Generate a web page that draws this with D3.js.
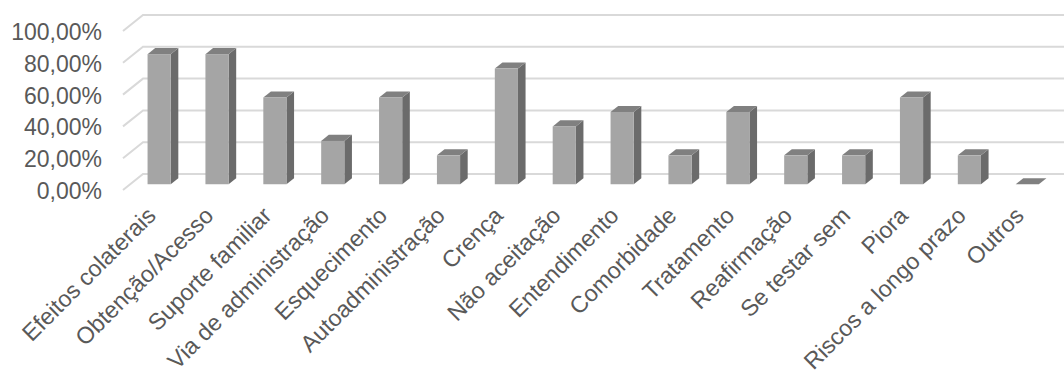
<!DOCTYPE html>
<html>
<head>
<meta charset="utf-8">
<style>
	body { margin: 0; background: #fff; }
	svg { display: block; font-family: "Liberation Sans", Arial, sans-serif; }
	.grid { stroke: #d9d9d9; stroke-width: 2; fill: none; }
	.front { fill: #a5a5a5; }
	.side { fill: #6b6b6b; }
	.top { fill: #808080; }
	.tick-label, .cat-label { fill: #595959; }
</style>
</head>
<body>
<svg width="1064" height="376"></svg>
<script src="https://d3js.org/d3.v7.min.js"></script>
<script>

// data
var categorias = ["Efeitos colaterais", "Obtenção/Acesso", "Suporte familiar", "Via de administração",
	"Esquecimento", "Autoadministração", "Crença", "Não aceitação", "Entendimento", "Comorbidade",
	"Tratamento", "Reafirmação", "Se testar sem", "Piora", "Riscos a longo prazo", "Outros"];
var valores = [0.8182, 0.8182, 0.5455, 0.2727, 0.5455, 0.1818, 0.7273, 0.3636, 0.4545, 0.1818,
	0.4545, 0.1818, 0.1818, 0.5455, 0.1818, 0];
var ticks = [0, 0.2, 0.4, 0.6, 0.8, 1];

var svg = d3.select("svg");

// plano frontal + profundidade (efeito 3D)
var x0 = 123, x1 = 1049,
	yBase = 190, yTop = 31,
	dx = 20, dy = -16,     // profundidade do piso
	f = 0.36,              // posição da face frontal da barra
	fd = 0.38;             // profundidade da barra

var x = d3.scaleBand()
	.domain(categorias)
	.range([x0, x1])
	.paddingInner(0.6)
	.paddingOuter(0.3);

var y = d3.scaleLinear()
	.domain([0, 1])
	.range([yBase, yTop]);

var fmt = function (t) {
	return d3.format(".2f")(t * 100).replace(".", ",") + "%";
};

// linhas de grade (diagonal + parede do fundo)
var grid = svg.append("g");
ticks.forEach(function (t) {
	grid.append("path")
		.attr("class", "grid")
		.attr("d", "M" + x0 + "," + y(t) + "L" + (x0 + dx) + "," + (y(t) + dy) + "L" + (x1 + dx) + "," + (y(t) + dy));
});

// rótulos do eixo y
svg.append("g").selectAll("text")
	.data(ticks)
	.enter().append("text")
	.attr("class", "tick-label")
	.attr("x", 102)
	.attr("y", function (t) { return y(t) + 1; })
	.attr("dy", "0.35em")
	.attr("text-anchor", "end")
	.style("font-size", "23px")
	.text(fmt);

var dados = categorias.map(function (c, i) { return { cat: c, v: valores[i] }; });

var bw = x.bandwidth();
var ox = f * dx, oy = f * dy, bx = fd * dx, by = fd * dy;

var barras = svg.append("g").selectAll("g")
	.data(dados)
	.enter().append("g");

// face lateral
barras.filter(function (d) { return d.v > 0; })
	.append("path")
	.attr("class", "side")
	.attr("d", function (d) {
		var xr = x(d.cat) + ox + bw, yt = y(d.v) + oy, yb = y(0) + oy;
		return "M" + xr + "," + yt + "L" + (xr + bx) + "," + (yt + by) + "L" + (xr + bx) + "," + (yb + by) + "L" + xr + "," + yb + "Z";
	});

// face superior
barras.append("path")
	.attr("class", "top")
	.attr("d", function (d) {
		var xl = x(d.cat) + ox, yt = y(d.v) + oy;
		return "M" + xl + "," + yt + "L" + (xl + bw) + "," + yt + "L" + (xl + bw + bx) + "," + (yt + by) + "L" + (xl + bx) + "," + (yt + by) + "Z";
	});

// face frontal
barras.filter(function (d) { return d.v > 0; })
	.append("rect")
	.attr("class", "front")
	.attr("x", function (d) { return x(d.cat) + ox; })
	.attr("y", function (d) { return y(d.v) + oy; })
	.attr("width", bw)
	.attr("height", function (d) { return y(0) - y(d.v); });

// rótulos das categorias
svg.append("g").selectAll("text")
	.data(categorias)
	.enter().append("text")
	.attr("class", "cat-label")
	.attr("text-anchor", "end")
	.style("font-size", "23.3px")
	.attr("transform", function (c) {
		return "translate(" + (x(c) + ox + bw / 2 - 2) + ",217) rotate(-45)";
	})
	.text(function (c) { return c; });

</script>
</body>
</html>
